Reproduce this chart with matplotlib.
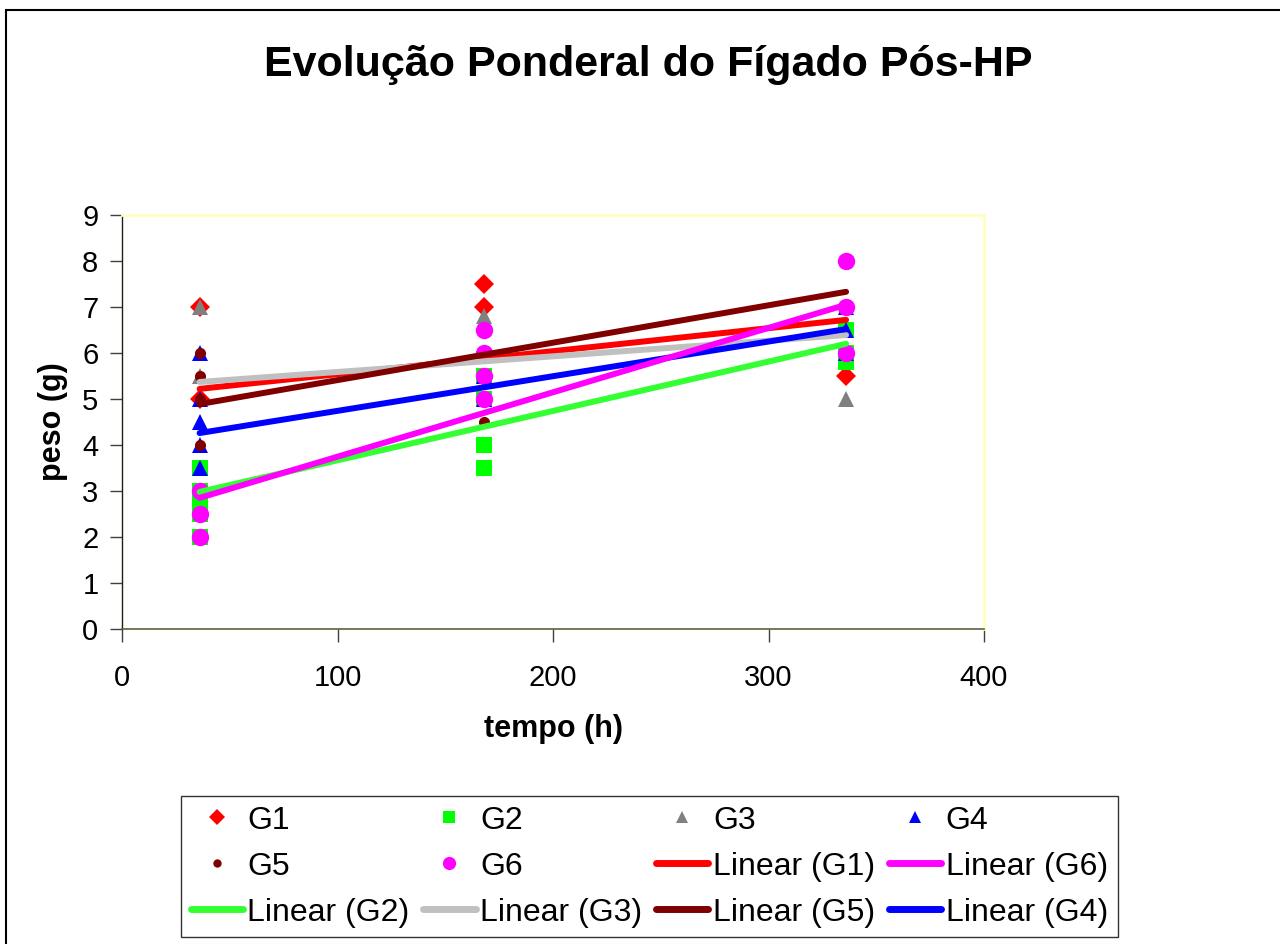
import matplotlib
matplotlib.use("Agg")
import matplotlib.pyplot as plt
from matplotlib.lines import Line2D
from matplotlib.patches import Rectangle

plt.rcParams['font.family'] = ['Liberation Sans', 'DejaVu Sans']

title = "Evolução Ponderal do Fígado Pós-HP"
xlabel = "tempo (h)"
ylabel = "peso (g)"

groups = ["G1", "G2", "G3", "G4", "G5", "G6"]

g1_x = [36, 36, 168, 168, 336]
g1_y = [7.0, 5.0, 7.5, 7.0, 5.5]
g2_x = [36, 36, 36, 36, 36, 168, 168, 168, 168, 336, 336, 336]
g2_y = [3.5, 3.0, 2.7, 2.5, 2.0, 5.5, 5.0, 4.0, 3.5, 6.5, 6.0, 5.8]
g3_x = [36, 36, 168, 336]
g3_y = [7.0, 5.5, 6.8, 5.0]
g4_x = [36, 36, 36, 36, 36, 168, 168, 336, 336, 336]
g4_y = [6.0, 5.0, 4.5, 4.0, 3.5, 5.5, 5.0, 7.0, 6.5, 6.0]
g5_x = [36, 36, 36, 36, 168, 336]
g5_y = [6.0, 5.5, 5.0, 4.0, 4.5, 7.0]
g6_x = [36, 36, 36, 168, 168, 168, 168, 336, 336, 336]
g6_y = [3.0, 2.5, 2.0, 6.5, 6.0, 5.5, 5.0, 8.0, 7.0, 6.0]

# linear trend lines (value at first and last time point)
trend_x = [36, 336]
trend_g1 = [5.22, 6.72]
trend_g2 = [2.98, 6.20]
trend_g3 = [5.37, 6.39]
trend_g4 = [4.26, 6.52]
trend_g5 = [4.89, 7.33]
trend_g6 = [2.85, 7.05]

xs = [g1_x, g2_x, g3_x, g4_x, g5_x, g6_x]
ys = [g1_y, g2_y, g3_y, g4_y, g5_y, g6_y]
trends = [trend_g1, trend_g2, trend_g3, trend_g4, trend_g5, trend_g6]

marker_colors = ["#FF0000", "#00FF00", "#808080", "#0000FF", "#800000", "#FF00FF"]
markers = ["D", "s", "^", "^", "o", "o"]
msizes = [10, 12, 12, 12, 8, 12.5]
legend_msizes = [8, 8.5, 9, 9, 6, 9.5]
line_colors = ["#FF0000", "#33FF33", "#C0C0C0", "#0000FF", "#800000", "#FF00FF"]

fig = plt.figure(figsize=(12.8, 9.44), dpi=100)
fig.patch.set_facecolor("white")
fig.add_artist(Rectangle((6 / 1280, -0.01), 1.0, (944 - 10) / 944 + 0.01,
                         transform=fig.transFigure, fill=False,
                         edgecolor="black", linewidth=1.5))

ax = fig.add_axes([122 / 1280, 1 - 629 / 944, 862 / 1280, 414 / 944])

point_handles = []
for i, g in enumerate(groups):
    h, = ax.plot(xs[i], ys[i], linestyle="none", marker=markers[i],
                 markersize=msizes[i], color=marker_colors[i],
                 markeredgewidth=0, zorder=3 + i * 0.01, label=g)
    point_handles.append(h)

line_handles = []
for i, g in enumerate(groups):
    h, = ax.plot(trend_x, trends[i], color=line_colors[i], linewidth=4.3,
                 solid_capstyle="round", zorder=4, label=f"Linear ({g})")
    line_handles.append(h)

ax.set_xlim(0, 400)
ax.set_ylim(0, 9)
ax.set_xticks([0, 100, 200, 300, 400])
ax.set_yticks(range(0, 10))
ax.tick_params(direction="out", length=9, width=1, labelsize=21, pad=8,
               color="#404040")
ax.tick_params(axis="x", pad=16)
for s in ["top", "right"]:
    ax.spines[s].set_color("#FFFFC0")
    ax.spines[s].set_linewidth(2)
ax.spines["left"].set_color("#202010")
ax.spines["bottom"].set_color("#606040")
ax.spines["left"].set_linewidth(1)
ax.spines["bottom"].set_linewidth(1.2)

ax.set_xlabel(xlabel, fontsize=22, fontweight="bold", labelpad=16)
ax.set_ylabel(ylabel, fontsize=22, fontweight="bold", labelpad=10)

fig.text(648 / 1280, 1 - 65 / 944, title, ha="center", va="center",
         fontsize=31, fontweight="bold")

# legend, column-major fill for 4 columns x 3 rows
order_pts = [(0, "p"), (4, "p"), (1, "l"),
             (1, "p"), (5, "p"), (2, "l"),
             (2, "p"), (0, "l"), (4, "l"),
             (3, "p"), (5, "l"), (3, "l")]
leg_handles = []
for idx, kind in order_pts:
    if kind == "p":
        leg_handles.append(Line2D([], [], linestyle="none", marker=markers[idx],
                                  markersize=legend_msizes[idx],
                                  color=marker_colors[idx], markeredgewidth=0,
                                  label=groups[idx]))
    else:
        leg_handles.append(Line2D([], [], color=line_colors[idx], linewidth=5,
                                  solid_capstyle="round",
                                  label=f"Linear ({groups[idx]})"))
leg = fig.legend(handles=leg_handles, ncol=4, loc="upper left",
                 bbox_to_anchor=(181 / 1280, 1 - 796 / 944),
                 bbox_transform=fig.transFigure, borderaxespad=0,
                 fontsize=23, frameon=True, fancybox=False, handlelength=1.63,
                 handletextpad=0.15, columnspacing=0.43, labelspacing=0.5,
                 borderpad=0.3)
leg.get_frame().set_edgecolor("black")
leg.get_frame().set_linewidth(1)

fig.savefig("out.png", dpi=100, facecolor="white")
